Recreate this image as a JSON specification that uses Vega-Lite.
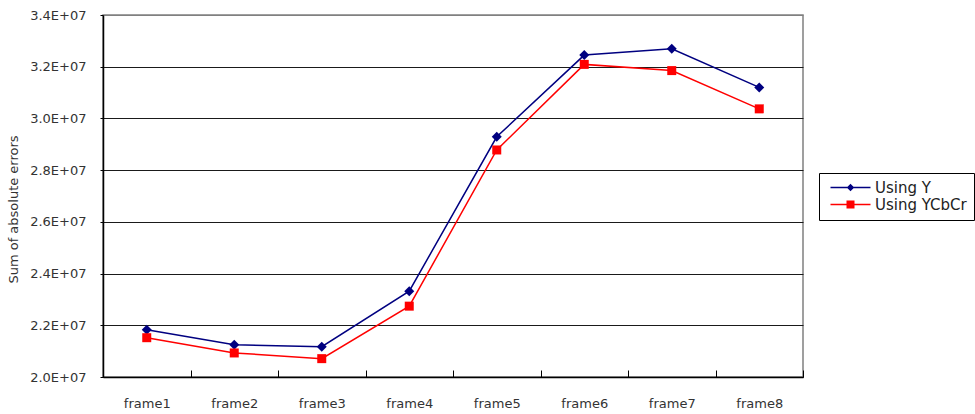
{
  "$schema": "https://vega.github.io/schema/vega-lite/v6.json",
  "autosize": {"type": "none"},
  "width": 700,
  "height": 362,
  "padding": {"left": 103, "top": 15, "right": 172, "bottom": 37},
  "background": "white",
  "config": {
    "view": {"stroke": "#808080", "strokeWidth": 1.5},
    "font": "DejaVu Sans"
  },
  "data": {
    "values": [
      {"frame": "frame1", "series": "Using Y", "value": 21830000},
      {"frame": "frame2", "series": "Using Y", "value": 21250000},
      {"frame": "frame3", "series": "Using Y", "value": 21170000},
      {"frame": "frame4", "series": "Using Y", "value": 23320000},
      {"frame": "frame5", "series": "Using Y", "value": 29290000},
      {"frame": "frame6", "series": "Using Y", "value": 32450000},
      {"frame": "frame7", "series": "Using Y", "value": 32690000},
      {"frame": "frame8", "series": "Using Y", "value": 31200000},
      {"frame": "frame1", "series": "Using YCbCr", "value": 21520000},
      {"frame": "frame2", "series": "Using YCbCr", "value": 20930000},
      {"frame": "frame3", "series": "Using YCbCr", "value": 20710000},
      {"frame": "frame4", "series": "Using YCbCr", "value": 22740000},
      {"frame": "frame5", "series": "Using YCbCr", "value": 28780000},
      {"frame": "frame6", "series": "Using YCbCr", "value": 32090000},
      {"frame": "frame7", "series": "Using YCbCr", "value": 31850000},
      {"frame": "frame8", "series": "Using YCbCr", "value": 30370000}
    ]
  },
  "encoding": {
    "x": {
      "field": "frame",
      "type": "nominal",
      "sort": null,
      "scale": {"paddingInner": 0, "paddingOuter": 0},
      "axis": {
        "title": null,
        "labelAngle": 0,
        "labelFontSize": 13,
        "labelColor": "#333333",
        "labelPadding": 27,
        "tickBand": "extent",
        "tickSize": -7,
        "tickColor": "#000000",
        "tickWidth": 1,
        "domainColor": "#000000",
        "domainWidth": 1.5,
        "grid": false
      }
    },
    "y": {
      "field": "value",
      "type": "quantitative",
      "scale": {"domain": [20000000, 34000000], "nice": false, "zero": false},
      "axis": {
        "title": "Sum of absolute errors",
        "titleFontSize": 13,
        "titleFontWeight": "normal",
        "titleColor": "#333333",
        "titleX": -90,
        "titleY": 194,
        "titleAngle": -90,
        "titleAlign": "center",
        "titleBaseline": "middle",
        "values": [20000000, 22000000, 24000000, 26000000, 28000000, 30000000, 32000000, 34000000],
        "labelExpr": "format(datum.value / 10000000, '.1f') + 'E+07'",
        "labelFontSize": 13,
        "labelColor": "#333333",
        "labelPadding": 14,
        "tickSize": 3,
        "tickColor": "#000000",
        "domainColor": "#000000",
        "domainWidth": 1.5,
        "grid": true,
        "gridColor": {
          "condition": {"test": "datum.value >= 34000000", "value": "#808080"},
          "value": "#1a1a1a"
        },
        "gridWidth": 1
      }
    },
    "color": {
      "field": "series",
      "type": "nominal",
      "scale": {"domain": ["Using Y", "Using YCbCr"], "range": ["#000080", "#ff0000"]},
      "legend": {
        "title": null,
        "orient": "none",
        "legendX": 716,
        "legendY": 158,
        "strokeColor": "#000000",
        "fillColor": "#ffffff",
        "padding": 7,
        "labelFontSize": 15,
        "labelColor": "#222222",
        "symbolOffset": 17,
        "labelOffset": 17,
        "symbolSize": 100,
        "symbolOpacity": 1,
        "symbolStrokeWidth": 0,
        "rowPadding": 1
      }
    }
  },
  "layer": [
    {"mark": {"type": "line", "strokeWidth": 1.5}},
    {
      "transform": [{"filter": "datum.series === 'Using Y'"}],
      "mark": {"type": "point", "shape": "diamond", "filled": true, "opacity": 1, "size": 100}
    },
    {
      "transform": [{"filter": "datum.series === 'Using YCbCr'"}],
      "mark": {"type": "point", "shape": "square", "filled": true, "opacity": 1, "size": 81}
    },
    {
      "mark": {"type": "point", "filled": true, "opacity": 1, "size": 0},
      "encoding": {
        "shape": {
          "field": "series",
          "type": "nominal",
          "scale": {
            "domain": ["Using Y", "Using YCbCr"],
            "range": [
              "M-4,-0.15L4,-0.15L4,0.15L-4,0.15Z M0,-0.75L0.75,0L0,0.75L-0.75,0Z",
              "M-4,-0.15L4,-0.15L4,0.15L-4,0.15Z M-0.8,-0.8L0.8,-0.8L0.8,0.8L-0.8,0.8Z"
            ]
          }
        }
      }
    }
  ]
}
